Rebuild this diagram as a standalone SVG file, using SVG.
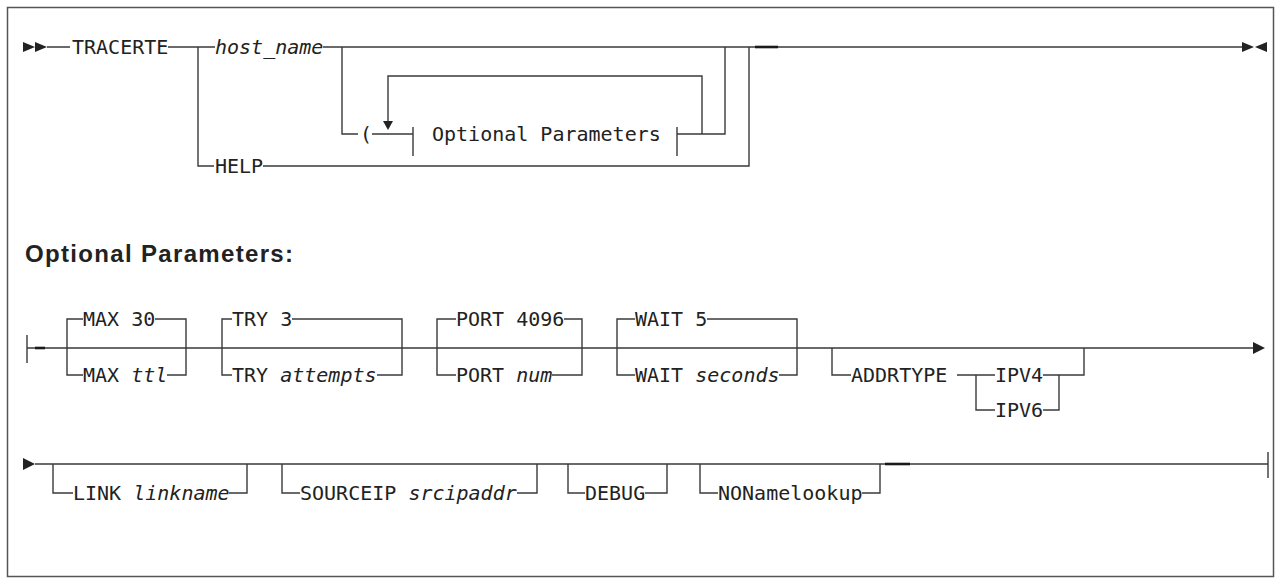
<svg xmlns="http://www.w3.org/2000/svg" width="1281" height="584" viewBox="0 0 1281 584">
<style>
.ln{stroke:#3a3a3a;stroke-width:1.4;fill:none}
.thk{stroke:#1a1a1a;stroke-width:2.6;fill:none}
.t{font-family:"DejaVu Sans Mono","Liberation Mono",monospace;font-size:20px;fill:#222}
.i{font-style:italic}
.hd{font-family:"Liberation Sans",Arial,sans-serif;font-weight:bold;font-size:24px;fill:#222}
.ah{fill:#222}
</style>
<rect x="7.5" y="7.5" width="1266" height="569" fill="#fff" stroke="#555" stroke-width="1.5"/>

<g id="connectors">
  <!-- row 1 -->
  <path class="ln" d="M47 47H70 M168 47H215 M323 47H755 M778 47H1242"/>
  <path class="thk" d="M755 47H778"/>
  <path class="ln" d="M198 47V166H214 M263 166H749V47"/>
  <path class="ln" d="M342 47V134H358 M372 134H413 M677 134H725V47"/>
  <path class="ln" d="M413 127V156 M677 127V156"/>
  <path class="ln" d="M702 134V76H388V122"/>
  <!-- row 2 -->
  <path class="ln" d="M27 348H1253 M27 335V363"/>
  <path class="thk" d="M35 348H45"/>
  <path class="ln" d="M83 319H67V375H83 M155 319H186V375H167"/>
  <path class="ln" d="M232 319H222V375H232 M292 319H402V375H377"/>
  <path class="ln" d="M456 319H437V375H456 M564 319H582V375H552"/>
  <path class="ln" d="M635 319H617V375H635 M707 319H797V375H779"/>
  <path class="ln" d="M832 348V375H851 M957 375H995 M976 375V410H995 M1043 375H1084V348 M1059 375V410H1043"/>
  <!-- row 3 -->
  <path class="ln" d="M35 464H1268 M1268 452V478"/>
  <path class="thk" d="M885 464H910"/>
  <path class="ln" d="M53 464V493H73 M229 493H247V464"/>
  <path class="ln" d="M282 464V493H300 M517 493H537V464"/>
  <path class="ln" d="M568 464V493H585 M645 493H667V464"/>
  <path class="ln" d="M700 464V493H718 M862 493H880V464"/>
  <!-- arrowheads -->
  <path class="ah" d="M23 42L35 47L23 52Z M35 42L47 47L35 52Z"/>
  <path class="ah" d="M1242 42L1254 47L1242 52Z M1267 42L1255 47L1267 52Z"/>
  <path class="ah" d="M383 121H393L388 130Z"/>
  <path class="ah" d="M1253 342L1265 348L1253 354Z"/>
  <path class="ah" d="M23 458L35 464L23 470Z"/>
</g>

<g id="n-tracerte"><text class="t" x="72" y="54">TRACERTE</text></g>
<g id="n-hostname"><text class="t i" x="215" y="54">host_name</text></g>
<g id="n-help"><text class="t" x="215" y="173">HELP</text></g>
<g id="n-paren"><text class="t" x="360" y="141">(</text></g>
<g id="n-optref"><text class="t" x="432" y="141">Optional Parameters</text></g>

<g id="n-heading"><text class="hd" x="25" y="262" textLength="268" lengthAdjust="spacing">Optional Parameters:</text></g>

<g id="n-max"><text class="t" x="83" y="326">MAX 30</text><text class="t" x="83" y="382">MAX <tspan class="i">ttl</tspan></text></g>
<g id="n-try"><text class="t" x="232" y="326">TRY 3</text><text class="t" x="232" y="382">TRY <tspan class="i">attempts</tspan></text></g>
<g id="n-port"><text class="t" x="456" y="326">PORT 4096</text><text class="t" x="456" y="382">PORT <tspan class="i">num</tspan></text></g>
<g id="n-wait"><text class="t" x="635" y="326">WAIT 5</text><text class="t" x="635" y="382">WAIT <tspan class="i">seconds</tspan></text></g>
<g id="n-addrtype"><text class="t" x="851" y="382">ADDRTYPE</text><text class="t" x="995" y="382">IPV4</text><text class="t" x="995" y="417">IPV6</text></g>

<g id="n-link"><text class="t" x="73" y="500">LINK <tspan class="i">linkname</tspan></text></g>
<g id="n-sourceip"><text class="t" x="300" y="500">SOURCEIP <tspan class="i">srcipaddr</tspan></text></g>
<g id="n-debug"><text class="t" x="585" y="500">DEBUG</text></g>
<g id="n-nonamelookup"><text class="t" x="718" y="500">NONamelookup</text></g>
</svg>
